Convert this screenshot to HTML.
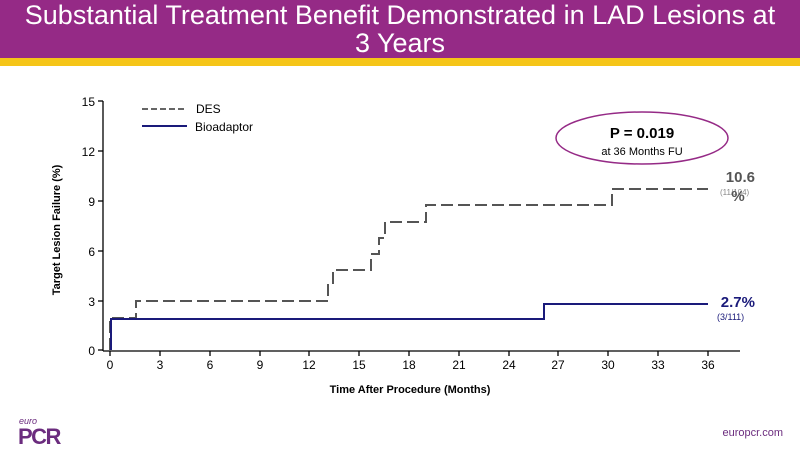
<!DOCTYPE html>
<html><head><meta charset="utf-8"><style>
body{margin:0;width:800px;height:450px;overflow:hidden;background:#fff;font-family:"Liberation Sans",sans-serif;position:relative}
.hdr{position:absolute;left:0;top:0;width:800px;height:58px;background:#952a86;color:#fff;text-align:center;font-size:27px;line-height:28px;padding-top:1px}
.bar{position:absolute;left:0;top:58px;width:800px;height:8px;background:#f5c518}
</style></head><body>
<div class="hdr">Substantial Treatment Benefit Demonstrated in LAD Lesions at<br>3 Years</div>
<div class="bar"></div>
<svg width="800" height="450" style="position:absolute;left:0;top:0" font-family="Liberation Sans, sans-serif">
<g stroke="#000" stroke-width="1.3" fill="none">
<line x1="103" y1="101" x2="103" y2="351"/>
<line x1="103" y1="351" x2="740" y2="351"/>
<line x1="98" y1="101" x2="103" y2="101"/><line x1="98" y1="151" x2="103" y2="151"/><line x1="98" y1="201" x2="103" y2="201"/><line x1="98" y1="251" x2="103" y2="251"/><line x1="98" y1="301" x2="103" y2="301"/><line x1="98" y1="350" x2="103" y2="350"/>
<line x1="110" y1="351" x2="110" y2="356"/><line x1="160" y1="351" x2="160" y2="356"/><line x1="210" y1="351" x2="210" y2="356"/><line x1="260" y1="351" x2="260" y2="356"/><line x1="309" y1="351" x2="309" y2="356"/><line x1="359" y1="351" x2="359" y2="356"/><line x1="409" y1="351" x2="409" y2="356"/><line x1="459" y1="351" x2="459" y2="356"/><line x1="509" y1="351" x2="509" y2="356"/><line x1="558" y1="351" x2="558" y2="356"/><line x1="608" y1="351" x2="608" y2="356"/><line x1="658" y1="351" x2="658" y2="356"/><line x1="708" y1="351" x2="708" y2="356"/>
</g>
<g font-size="12" text-anchor="end" fill="#000">
<text x="95" y="106">15</text><text x="95" y="156">12</text><text x="95" y="206">9</text><text x="95" y="256">6</text><text x="95" y="306">3</text><text x="95" y="355">0</text>
</g>
<g font-size="12" text-anchor="middle" fill="#000">
<text x="110" y="369">0</text><text x="160" y="369">3</text><text x="210" y="369">6</text><text x="260" y="369">9</text><text x="309" y="369">12</text><text x="359" y="369">15</text><text x="409" y="369">18</text><text x="459" y="369">21</text><text x="509" y="369">24</text><text x="558" y="369">27</text><text x="608" y="369">30</text><text x="658" y="369">33</text><text x="708" y="369">36</text>
</g>
<text x="410" y="393" font-size="11" font-weight="bold" text-anchor="middle">Time After Procedure (Months)</text>
<text transform="translate(60,230) rotate(-90)" font-size="11" font-weight="bold" text-anchor="middle">Target Lesion Failure (%)</text>
<path d="M110 350 V318 H136 V301 H328 V285 H333 V270 H371 V254 H379 V238 H385 V222 H426 V205 H612 V189 H708" fill="none" stroke="#555" stroke-width="2" stroke-dasharray="12,5"/>
<path d="M111 350 V319 H544 V304 H708" fill="none" stroke="#1a1a7a" stroke-width="2"/>
<line x1="142" y1="109" x2="185" y2="109" stroke="#666" stroke-width="2" stroke-dasharray="6,3"/>
<text x="196" y="113" font-size="12">DES</text>
<line x1="142" y1="126" x2="187" y2="126" stroke="#1a1a7a" stroke-width="2"/>
<text x="195" y="131" font-size="12">Bioadaptor</text>
<ellipse cx="642" cy="138" rx="86" ry="26" fill="#fff" stroke="#952a86" stroke-width="1.5"/>
<text x="642" y="138" font-size="15" font-weight="bold" text-anchor="middle">P = 0.019</text>
<text x="642" y="155" font-size="11" text-anchor="middle">at 36 Months FU</text>
<text x="755" y="182" font-size="15" font-weight="bold" fill="#555" text-anchor="end">10.6</text>
<text x="720" y="195" font-size="8" fill="#888">(11/104)</text>
<text x="738" y="201" font-size="15" font-weight="bold" fill="#555" text-anchor="middle">%</text>
<text x="755" y="307" font-size="15" font-weight="bold" fill="#1a1a7a" text-anchor="end">2.7%</text>
<text x="717" y="320" font-size="9" fill="#1a1a7a">(3/111)</text>
<text x="19" y="424" font-size="9" font-style="italic" fill="#6b2c7e">euro</text>
<text x="18" y="444" font-size="22" font-weight="bold" fill="#6b2c7e" letter-spacing="-1.5">PCR</text>
<text x="783" y="436" font-size="11" fill="#6b2c7e" text-anchor="end">europcr.com</text>
</svg>
</body></html>
